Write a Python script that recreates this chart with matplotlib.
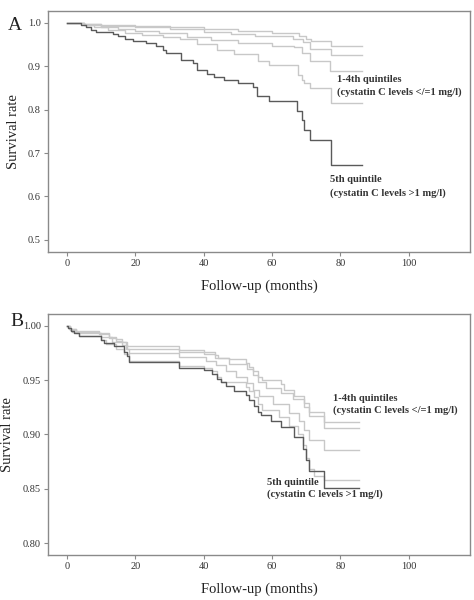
from matplotlib import pyplot as plt

plt.rcParams['font.family'] = ['Liberation Serif', 'DejaVu Serif']

# Panel A: survival curves (months, survival)
a_q5_t = [0, 4, 5.5, 7, 8.6, 13.5, 15, 17, 19.4, 23, 26, 28, 29, 33.5, 37, 38, 41, 43, 46, 50, 54.5, 55.5, 59, 67.3, 68.7, 69.4, 71.2, 77.2, 86.3]
a_q5_s = [1.0, 0.995, 0.99, 0.984, 0.979, 0.975, 0.969, 0.963, 0.959, 0.954, 0.946, 0.938, 0.931, 0.915, 0.908, 0.892, 0.883, 0.875, 0.868, 0.862, 0.852, 0.832, 0.819, 0.798, 0.777, 0.754, 0.731, 0.673, 0.673]

a_l1_t = [0, 5, 10, 20, 30, 40, 50, 60, 68, 70, 71.5, 77.2, 86.3]
a_l1_s = [1.0, 0.998, 0.996, 0.993, 0.99, 0.986, 0.982, 0.977, 0.969, 0.962, 0.958, 0.946, 0.946]

a_l2_t = [0, 5, 10, 20, 30, 40, 48, 55, 66, 69, 71.2, 77.2, 86.3]
a_l2_s = [1.0, 0.997, 0.994, 0.99, 0.985, 0.979, 0.974, 0.97, 0.963, 0.955, 0.94, 0.927, 0.927]

a_l3_t = [0, 5, 10, 15, 20, 27, 35, 42, 50, 60, 66.3, 68.7, 71.2, 77, 86.3]
a_l3_s = [1.0, 0.996, 0.991, 0.987, 0.982, 0.976, 0.967, 0.96, 0.953, 0.948, 0.945, 0.931, 0.913, 0.89, 0.89]

a_l4_t = [0, 5, 8, 12, 17, 22, 28, 33, 38, 44, 49, 56, 59, 67.5, 68.7, 69.4, 71.2, 77.2, 86.3]
a_l4_s = [1.0, 0.995, 0.99, 0.983, 0.977, 0.972, 0.968, 0.963, 0.952, 0.938, 0.929, 0.912, 0.902, 0.88, 0.869, 0.862, 0.85, 0.815, 0.815]

# Panel B
b_q5_t = [0, 0.4, 1.1, 2, 3.5, 9.9, 10.9, 13.8, 16.7, 17.7, 18.2, 32.8, 40, 42.5, 44, 45, 46.5, 49, 52.3, 53.3, 54.8, 55.8, 56.7, 59.7, 62.6, 66.5, 69, 69.9, 70.9, 75.3, 85.5]
b_q5_s = [1.0, 0.998, 0.995, 0.993, 0.991, 0.987, 0.984, 0.981, 0.976, 0.972, 0.967, 0.961, 0.959, 0.956, 0.951, 0.948, 0.945, 0.94, 0.936, 0.932, 0.926, 0.921, 0.918, 0.912, 0.907, 0.898, 0.887, 0.876, 0.866, 0.851, 0.851]

b_l1_t = [0, 1, 2.5, 9.4, 12.3, 14.3, 16.2, 17.7, 32.8, 40, 43.4, 44.3, 47.3, 52.3, 53.3, 54.3, 55.8, 57.2, 62.6, 63.5, 66.5, 69.4, 70.9, 75.3, 85.5]
b_l1_s = [1.0, 0.997, 0.995, 0.993, 0.99, 0.988, 0.985, 0.981, 0.978, 0.976, 0.973, 0.97, 0.969, 0.966, 0.962, 0.958, 0.953, 0.95, 0.946, 0.941, 0.935, 0.929, 0.921, 0.911, 0.911]

b_l2_t = [0, 1, 2.5, 9.4, 12.3, 14.3, 16.2, 17.7, 32.8, 40, 43.4, 47.3, 52.8, 54.3, 55.8, 58.2, 62.6, 66, 69.4, 70.9, 75.3, 85.5]
b_l2_s = [1.0, 0.997, 0.994, 0.992, 0.989, 0.986, 0.982, 0.979, 0.976, 0.974, 0.97, 0.965, 0.96, 0.955, 0.948, 0.943, 0.938, 0.933, 0.925, 0.917, 0.906, 0.906]

b_l3_t = [0, 1, 2.5, 9.9, 13.3, 17.2, 18.2, 32.8, 40.6, 43.5, 46.5, 49.4, 52.8, 54.3, 56.2, 60.2, 65, 67.9, 69.4, 70.9, 75.3, 85.5]
b_l3_s = [1.0, 0.996, 0.993, 0.99, 0.985, 0.979, 0.975, 0.971, 0.968, 0.964, 0.958, 0.953, 0.947, 0.941, 0.935, 0.928, 0.92, 0.912, 0.904, 0.895, 0.886, 0.886]

b_l4_t = [0, 0.6, 1.5, 3.5, 9.9, 11.4, 14.3, 16.7, 18.2, 32.8, 40, 42.5, 44, 45, 52.3, 53.3, 54.8, 55.8, 57.2, 62.1, 65, 67.5, 69.2, 69.9, 70.9, 72.4, 75.3, 85.5]
b_l4_s = [1.0, 0.997, 0.994, 0.991, 0.987, 0.983, 0.979, 0.974, 0.968, 0.963, 0.961, 0.958, 0.953, 0.948, 0.944, 0.94, 0.934, 0.928, 0.922, 0.916, 0.908, 0.9, 0.89, 0.878, 0.868, 0.862, 0.858, 0.858]

x_ticks = [0, 20, 40, 60, 80, 100]
a_yticks = [0.5, 0.6, 0.7, 0.8, 0.9, 1.0]
b_yticks = [0.80, 0.85, 0.90, 0.95, 1.00]

dark = '#5a5a5a'
light = '#c8c8c8'
frame = '#8a8a8a'

fig = plt.figure(figsize=(4.74, 6), dpi=100)
ax_a = fig.add_axes([0.101, 0.58, 0.891, 0.402])
ax_b = fig.add_axes([0.101, 0.075, 0.891, 0.402])


def style(ax, yticks, fmt, ylim):
    ax.set_xlim(-5.6, 118)
    ax.set_ylim(*ylim)
    ax.set_xticks(x_ticks)
    ax.set_yticks(yticks)
    ax.set_yticklabels([fmt % v for v in yticks])
    ax.tick_params(direction='out', length=3, width=0.8, color=frame,
                   labelsize=7.5, labelcolor='#333333', pad=2)
    for s in ax.spines.values():
        s.set_color(frame)
        s.set_linewidth(1.0)
    ax.set_xlabel('Follow-up (months)', fontsize=10.5, color='#222222', labelpad=8)
    ax.set_ylabel('Survival rate', fontsize=10.5, color='#222222', labelpad=6)


for t, s in [(a_l1_t, a_l1_s), (a_l2_t, a_l2_s), (a_l3_t, a_l3_s), (a_l4_t, a_l4_s)]:
    ax_a.step(t, s, where='post', color=light, lw=1.0)
ax_a.step(a_q5_t, a_q5_s, where='post', color=dark, lw=1.0)
style(ax_a, a_yticks, '%.1f', (0.472, 1.028))

for t, s in [(b_l1_t, b_l1_s), (b_l2_t, b_l2_s), (b_l3_t, b_l3_s), (b_l4_t, b_l4_s)]:
    ax_b.step(t, s, where='post', color=light, lw=1.0)
ax_b.step(b_q5_t, b_q5_s, where='post', color=dark, lw=1.0)
style(ax_b, b_yticks, '%.2f', (0.789, 1.011))

tk = dict(fontsize=7.6, fontweight='bold', color='#333333', va='center', ha='left')
ax_a.text(79, 0.869, '1-4th quintiles', **tk)
ax_a.text(79, 0.841, '(cystatin C levels </=1 mg/l)', **tk)
ax_a.text(77, 0.638, '5th quintile', **tk)
ax_a.text(77, 0.608, '(cystatin C levels >1 mg/l)', **tk)

ax_b.text(77.7, 0.933, '1-4th quintiles', **tk)
ax_b.text(77.7, 0.922, '(cystatin C levels </=1 mg/l)', **tk)
ax_b.text(58.6, 0.856, '5th quintile', **tk)
ax_b.text(58.6, 0.845, '(cystatin C levels >1 mg/l)', **tk)

fig.text(15 / 474, 1 - 25 / 600, 'A', fontsize=14, ha='center', va='center', color='#222222')
fig.text(17 / 474, 1 - 322 / 600, 'B', fontsize=14, ha='center', va='center', color='#222222')

fig.savefig('out.png', dpi=100)
